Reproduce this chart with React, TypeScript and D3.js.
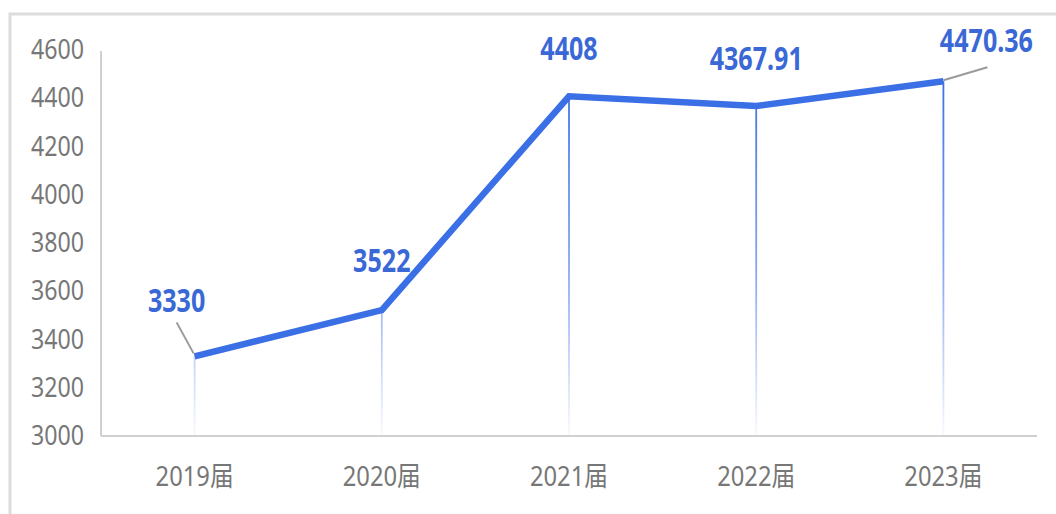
// App.tsx
import React, { useRef, useEffect } from "react";
import * as d3 from "d3";

const categories = ["2019届", "2020届", "2021届", "2022届", "2023届"];
const values = [3330, 3522, 4408, 4367.91, 4470.36];
const valueLabels = ["3330", "3522", "4408", "4367.91", "4470.36"];
const yTicks = [3000, 3200, 3400, 3600, 3800, 4000, 4200, 4400, 4600];

const lineColor = "#3b6fe6";
const labelColor = "#3a68d6";
const axisColor = "#d0d0d0";
const tickColor = "#777";

const App: React.FC = () => {
  const ref = useRef<SVGSVGElement | null>(null);

  useEffect(() => {
    if (!ref.current) return;
    const width = 1056;
    const height = 514;
    const left = 101, right = 1037, top = 50, bottom = 436;

    const svg = d3.select(ref.current)
      .attr("width", width)
      .attr("height", height)
      .attr("viewBox", [0, 0, width, height]);

    const x = d3.scaleBand<string>().domain(categories).range([left, right]);
    const y = d3.scaleLinear().domain([3000, 4600]).range([bottom, top]);
    const cx = (c: string) => (x(c) ?? 0) + x.bandwidth() / 2;

    // frame
    svg.append("rect")
      .attr("x", 10).attr("y", 14)
      .attr("width", width + 20).attr("height", height + 20)
      .attr("fill", "#fff")
      .attr("stroke", "#dcdcdc")
      .attr("stroke-width", 3);

    // gradient for the drop lines
    const grad = svg.append("defs").append("linearGradient")
      .attr("id", "drop")
      .attr("gradientUnits", "userSpaceOnUse")
      .attr("x1", 0).attr("x2", 0)
      .attr("y1", y(4500)).attr("y2", bottom);
    grad.append("stop").attr("offset", 0).attr("stop-color", lineColor).attr("stop-opacity", 1);
    grad.append("stop").attr("offset", 0.55).attr("stop-color", lineColor).attr("stop-opacity", 0.6);
    grad.append("stop").attr("offset", 1).attr("stop-color", lineColor).attr("stop-opacity", 0.03);

    // axes lines
    svg.append("line")
      .attr("x1", left).attr("x2", left)
      .attr("y1", top + 1).attr("y2", bottom)
      .attr("stroke", axisColor).attr("stroke-width", 2);
    svg.append("line")
      .attr("x1", left).attr("x2", right)
      .attr("y1", bottom).attr("y2", bottom)
      .attr("stroke", axisColor).attr("stroke-width", 2);

    // y tick labels
    svg.append("g")
      .selectAll("text")
      .data(yTicks)
      .join("text")
      .attr("transform", (d) => `translate(84,${y(d) + 9}) scale(0.86,1)`)
      .attr("text-anchor", "end")
      .attr("font-family", "'Noto Sans', sans-serif")
      .attr("font-size", 27)
      .attr("fill", tickColor)
      .text((d) => d);

    // x labels
    svg.append("g")
      .selectAll("text")
      .data(categories)
      .join("text")
      .attr("transform", (d) => `translate(${cx(d)},486) scale(0.88,1)`)
      .attr("text-anchor", "middle")
      .attr("font-family", "'Noto Sans', 'Noto Sans CJK SC', sans-serif")
      .attr("font-size", 27)
      .attr("fill", tickColor)
      .text((d) => d);

    // drop lines
    svg.append("g")
      .selectAll("line")
      .data(categories)
      .join("line")
      .attr("x1", cx).attr("x2", cx)
      .attr("y1", (_d, i) => y(values[i]))
      .attr("y2", bottom)
      .attr("stroke", "url(#drop)")
      .attr("stroke-width", 1.8);

    // main line
    const line = d3.line<number>()
      .x((_d, i) => cx(categories[i]))
      .y((d) => y(d));
    svg.append("path")
      .datum(values)
      .attr("d", line)
      .attr("fill", "none")
      .attr("stroke", lineColor)
      .attr("stroke-width", 6.5)
      .attr("stroke-linejoin", "miter");

    // label offsets relative to point: [dx, dy] of label baseline, and leader line
    const offsets: [number, number, boolean][] = [
      [-18, -44, true],
      [0, -38, false],
      [0, -36, false],
      [0, -36, false],
      [43, -29, true],
    ];

    const leaders = svg.append("g").attr("stroke", "#9a9a9a").attr("stroke-width", 2);
    values.forEach((v, i) => {
      const [dx, dy, lead] = offsets[i];
      if (!lead) return;
      const px = cx(categories[i]);
      const py = y(v);
      if (i === 0) {
        leaders.append("line")
          .attr("x1", px + dx).attr("y1", py + dy + 10)
          .attr("x2", px - 1).attr("y2", py - 3);
      } else {
        leaders.append("line")
          .attr("x1", px).attr("y1", py - 1)
          .attr("x2", px + dx + 1).attr("y2", py + dy + 15);
      }
    });

    svg.append("g")
      .selectAll("text")
      .data(values)
      .join("text")
      .attr("transform", (d, i) =>
        `translate(${cx(categories[i]) + offsets[i][0]},${y(d) + offsets[i][1]}) scale(0.76,1)`)
      .attr("text-anchor", "middle")
      .attr("font-family", "'Noto Sans', sans-serif")
      .attr("font-weight", "bold")
      .attr("font-size", 33)
      .attr("fill", labelColor)
      .text((_d, i) => valueLabels[i]);

    return () => {
      svg.selectAll("*").remove();
    };
  }, []);

  return (
    <svg ref={ref} style={{ position: "absolute", left: 0, top: 0, background: "#fff" }}></svg>
  );
};

export default App;
